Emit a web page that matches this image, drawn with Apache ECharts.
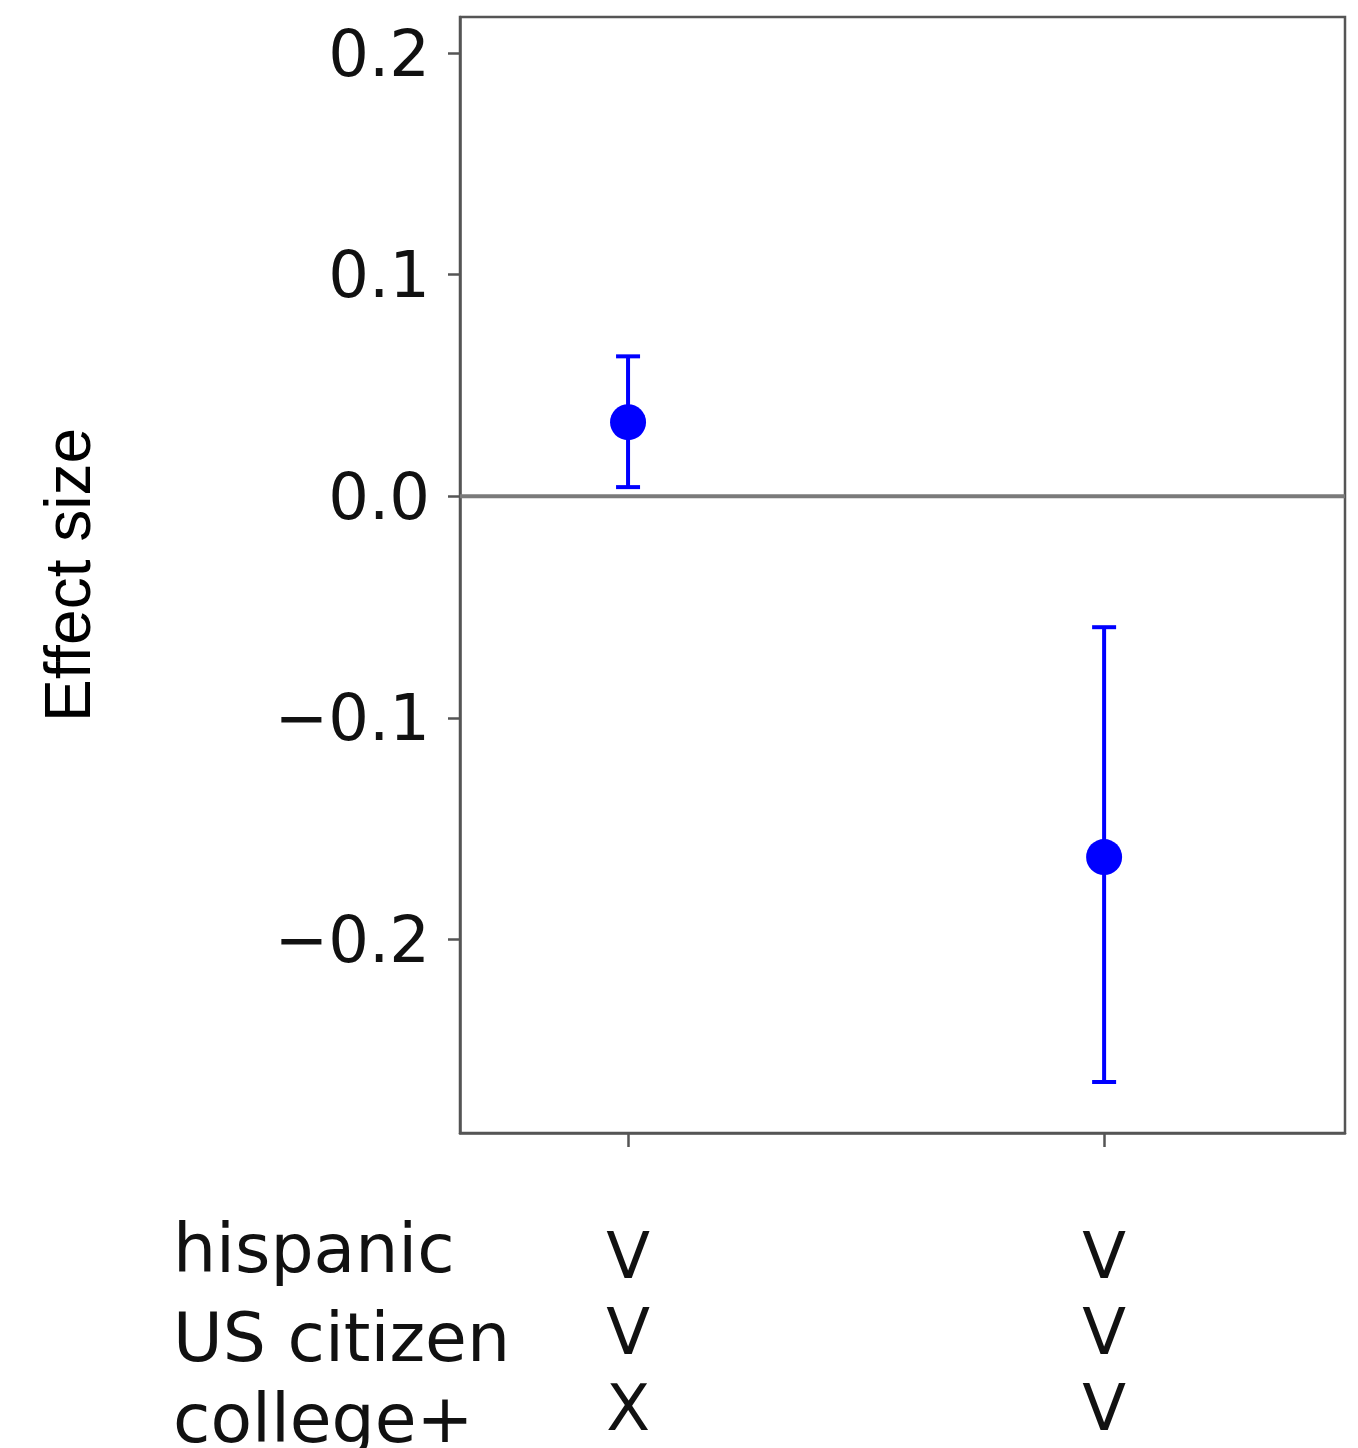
<!DOCTYPE html>
<html>
<head>
<meta charset="utf-8">
<script src="https://cdn.jsdelivr.net/npm/echarts@6/dist/echarts.min.js"></script>
<style>
html,body{margin:0;padding:0;background:#fff;}
#chart{width:1358px;height:1448px;}
</style>
</head>
<body>
<div id="chart"></div>
<script>
// ---- data ----
const groupX = [0, 1];
const effects = [0.0334, -0.1628];
const ciLow = [0.0041, -0.2643];
const ciHigh = [0.0631, -0.0591];
const rowLabels = ['hispanic', 'US citizen', 'college+'];
const groupMarks = [['V', 'V', 'X'], ['V', 'V', 'V']];
const yTicks = [-0.2, -0.1, 0.0, 0.1, 0.2];
const yRange = [-0.2873, 0.2162];
const xRange = [-0.353, 1.506];

const chart = echarts.init(document.getElementById('chart'), null, {renderer: 'canvas'});
const FONT = '"DejaVu Sans", sans-serif';
const BLUE = '#0000ff';

const errData = groupX.map((x, i) => [x, ciLow[i], ciHigh[i]]);
const ptData = groupX.map((x, i) => [x, effects[i]]);

chart.setOption({
  animation: false,
  backgroundColor: '#fff',
  grid: {left: 460, right: 13, top: 17, bottom: 315, containLabel: false, outerBoundsMode: 'none',
         show: true, borderColor: '#555', borderWidth: 2.5, backgroundColor: 'transparent'},
  xAxis: {
    type: 'value', min: xRange[0], max: xRange[1],
    splitLine: {show: false},
    axisLine: {show: true, onZero: false, lineStyle: {color: '#555', width: 2.5}},
    axisTick: {show: true, customValues: groupX, length: 14, lineStyle: {color: '#555', width: 2.5}},
    axisLabel: {
      customValues: groupX, margin: 90, fontFamily: FONT, fontSize: 64, color: '#111', lineHeight: 76,
      verticalAlign: 'top',
      formatter: v => { const i = groupX.indexOf(Math.round(v)); return i >= 0 ? groupMarks[i].join('\n') : ''; }
    }
  },
  yAxis: {
    type: 'value', min: yRange[0], max: yRange[1],
    splitLine: {show: false},
    axisLine: {show: true, onZero: false, lineStyle: {color: '#555', width: 2.5}},
    axisTick: {show: true, customValues: yTicks, length: 12, lineStyle: {color: '#555', width: 2.5}},
    axisLabel: {
      customValues: yTicks, margin: 30, fontFamily: FONT, fontSize: 64, color: '#111',
      verticalAlign: 'top', lineHeight: 12,
      formatter: v => (v < -1e-9 ? '\u2212' : '') + Math.abs(v).toFixed(1)
    }
  },
  graphic: [
    {type: 'text', x: 72, y: 575, rotation: Math.PI / 2,
     style: {text: 'Effect size', fontFamily: '"Liberation Sans", Arial, sans-serif', fontSize: 64, fill: '#000', align: 'center', verticalAlign: 'middle'}}
  ].concat(rowLabels.map((t, i) => ({
    type: 'text', x: 173, y: [1254, 1343, 1424][i],
    style: {text: t, fontFamily: FONT, fontSize: 68, fill: '#111', align: 'left', verticalAlign: 'middle'}
  }))),
  series: [
    {
      type: 'line', data: [[xRange[0], 0], [xRange[1], 0]], symbol: 'none', silent: true,
      lineStyle: {color: '#7a7a7a', width: 4}, z: 1
    },
    {
      type: 'custom', z: 3,
      renderItem: (params, api) => {
        const x = api.value(0);
        const lo = api.coord([x, api.value(1)]);
        const hi = api.coord([x, api.value(2)]);
        const cap = 12;
        const st = {stroke: BLUE, lineWidth: 4};
        return {type: 'group', children: [
          {type: 'line', shape: {x1: lo[0], y1: lo[1], x2: hi[0], y2: hi[1]}, style: st},
          {type: 'line', shape: {x1: lo[0] - cap, y1: lo[1], x2: lo[0] + cap, y2: lo[1]}, style: st},
          {type: 'line', shape: {x1: hi[0] - cap, y1: hi[1], x2: hi[0] + cap, y2: hi[1]}, style: st}
        ]};
      },
      data: errData
    },
    {
      type: 'scatter', z: 4, data: ptData, symbol: 'circle', symbolSize: 36,
      itemStyle: {color: BLUE, opacity: 1}
    }
  ]
});
</script>
</body>
</html>
